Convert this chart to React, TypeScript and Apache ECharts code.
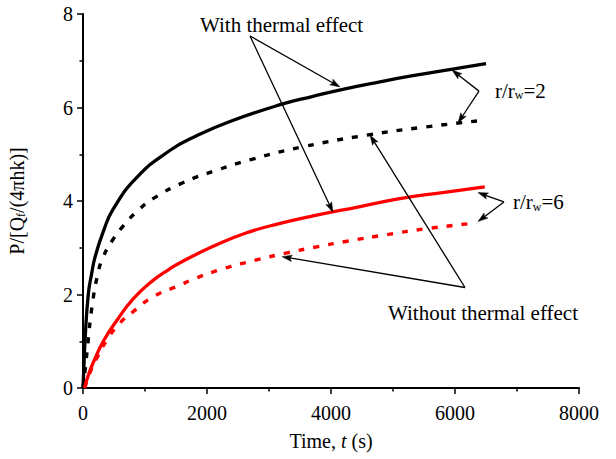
import React, { useEffect, useRef } from "react";
import * as echarts from "echarts";

// Time axis (s) and dimensionless pressure values
const blackSolidT = [0, 16, 32, 85, 140, 194, 328, 484, 865, 1400, 1840, 2370, 3180, 3710, 4190, 4790, 5320, 6080, 6500];
const blackSolidV = [0, 0.5, 1.0, 2.0, 2.45, 2.8, 3.35, 3.82, 4.5, 5.08, 5.4, 5.7, 6.06, 6.24, 6.39, 6.55, 6.68, 6.85, 6.94];

const blackDotT = [0, 40, 80, 145, 240, 325, 470, 650, 890, 1130, 1610, 2160, 2690, 3550, 4580, 5500, 6355];
const blackDotV = [0, 0.45, 0.97, 1.74, 2.45, 2.8, 3.15, 3.47, 3.8, 4.05, 4.39, 4.66, 4.88, 5.16, 5.41, 5.58, 5.71];

const redSolidT = [25, 80, 167, 328, 548, 806, 1100, 1400, 1565, 2100, 2640, 3180, 3710, 4470, 5110, 5800, 6480];
const redSolidV = [0, 0.25, 0.55, 1.0, 1.45, 1.9, 2.27, 2.55, 2.68, 3.03, 3.32, 3.52, 3.68, 3.88, 4.05, 4.18, 4.3];

const redDotT = [30, 120, 226, 387, 597, 806, 1130, 1565, 1780, 2260, 2800, 3290, 3770, 4260, 4900, 5550, 6350];
const redDotV = [0, 0.35, 0.65, 1.03, 1.39, 1.63, 1.95, 2.2, 2.33, 2.55, 2.74, 2.89, 3.02, 3.14, 3.28, 3.41, 3.53];

const xTicks = { min: 0, max: 8000, interval: 2000 };
const yTicks = { min: 0, max: 8, interval: 2 };

// Annotation arrows in data coordinates: [fromT, fromV, toT, toV]
const annotationArrows: [number, number, number, number][] = [
  [2694, 7.53, 4145, 6.44],
  [2694, 7.53, 4032, 3.76],
  [6387, 6.35, 5952, 6.8],
  [6387, 6.35, 6048, 5.67],
  [6790, 3.98, 6371, 4.18],
  [6790, 3.98, 6371, 3.56],
  [6161, 2.15, 4629, 5.41],
  [6161, 2.15, 3210, 2.81],
];

// Annotation texts: [t, v, rich text]
const annotationTexts: [number, number, string][] = [
  [1887, 7.78, "{a|With thermal effect}"],
  [6645, 6.37, "{a|r/r}{s|w}{a|=2}"],
  [6935, 3.98, "{a|r/r}{s|w}{a|=6}"],
  [4919, 1.61, "{a|Without thermal effect}"],
];

const FONT = "'Liberation Serif', 'Times New Roman', serif";

const zip = (t: number[], v: number[]) => t.map((x, i) => [x, v[i]]);

export default function App() {
  const ref = useRef<HTMLDivElement>(null);
  useEffect(() => {
    const chart = echarts.init(ref.current!, null, { renderer: "svg" });
    const lineBase = {
      type: "line",
      showSymbol: false,
      symbol: "none",
      smooth: 0.5,
      z: 3,
    };
    chart.setOption({
      animation: false,
      backgroundColor: "#ffffff",
      grid: { left: 83, right: 37, top: 14, bottom: 71, containLabel: false, outerBoundsMode: "none" },
      xAxis: {
        type: "value",
        min: xTicks.min,
        max: xTicks.max,
        interval: xTicks.interval,
        name: "{a|Time, }{i|t}{a| (s)}",
        nameLocation: "middle",
        nameGap: 43,
        nameTextStyle: {
          rich: {
            a: { fontFamily: FONT, fontSize: 20, color: "#000" },
            i: { fontFamily: FONT, fontSize: 20, fontStyle: "italic", color: "#000" },
          },
        },
        axisLine: { show: true, onZero: false, lineStyle: { color: "#000", width: 2 } },
        axisTick: { show: true, inside: false, length: 6, lineStyle: { color: "#000", width: 1.5 } },
        minorTick: { show: true, splitNumber: 2, length: 3.5, lineStyle: { color: "#000", width: 1.5 } },
        axisLabel: { fontFamily: FONT, fontSize: 20, color: "#000", margin: 15, formatter: (v: number) => String(v) },
        splitLine: { show: false },
      },
      yAxis: {
        type: "value",
        min: yTicks.min,
        max: yTicks.max,
        interval: yTicks.interval,
        name: "{a|P/[Q}{s|f}{a|/(4πhk)]}",
        nameLocation: "middle",
        nameRotate: 90,
        nameGap: 56,
        nameTextStyle: {
          rich: {
            a: { fontFamily: FONT, fontSize: 20, color: "#000", verticalAlign: "bottom", lineHeight: 22 },
            s: { fontFamily: FONT, fontSize: 12, color: "#000", verticalAlign: "bottom", lineHeight: 17 },
          },
        },
        axisLine: { show: true, onZero: false, lineStyle: { color: "#000", width: 2 } },
        axisTick: { show: true, inside: false, length: 6, lineStyle: { color: "#000", width: 1.5 } },
        minorTick: { show: true, splitNumber: 2, length: 3.5, lineStyle: { color: "#000", width: 1.5 } },
        axisLabel: { fontFamily: FONT, fontSize: 20, color: "#000", margin: 10, formatter: (v: number) => String(v) },
        splitLine: { show: false },
      },
      series: [
        { ...lineBase, name: "With thermal r/rw=2", data: zip(blackSolidT, blackSolidV), lineStyle: { color: "#000", width: 3.3 } },
        { ...lineBase, name: "Without thermal r/rw=2", data: zip(blackDotT, blackDotV), lineStyle: { color: "#000", width: 3.4, type: [6, 9] } },
        { ...lineBase, name: "With thermal r/rw=6", data: zip(redSolidT, redSolidV), lineStyle: { color: "#ff0000", width: 3.3 } },
        { ...lineBase, name: "Without thermal r/rw=6", data: zip(redDotT, redDotV), lineStyle: { color: "#ff0000", width: 3.4, type: [6, 9] } },
      ],
    });

    const px = (t: number, v: number) => chart.convertToPixel({ gridIndex: 0 }, [t, v]) as number[];
    const graphics: any[] = [];
    const L = 10;
    const W = 3.2;
    annotationArrows.forEach(([t0, v0, t1, v1]) => {
      const [x0, y0] = px(t0, v0);
      const [x1, y1] = px(t1, v1);
      const dx = x1 - x0;
      const dy = y1 - y0;
      const len = Math.hypot(dx, dy);
      const ux = dx / len;
      const uy = dy / len;
      const nx = -uy;
      const ny = ux;
      const bx = x1 - ux * L;
      const by = y1 - uy * L;
      const notchX = x1 - ux * L * 0.8;
      const notchY = y1 - uy * L * 0.8;
      graphics.push({
        type: "line",
        shape: { x1: x0, y1: y0, x2: notchX, y2: notchY },
        style: { stroke: "#000", lineWidth: 1.3 },
        z: 10,
      });
      graphics.push({
        type: "polygon",
        shape: {
          points: [
            [x1, y1],
            [bx + nx * W, by + ny * W],
            [notchX, notchY],
            [bx - nx * W, by - ny * W],
          ],
        },
        style: { fill: "#000", stroke: "#000", lineWidth: 0.5 },
        z: 10,
      });
    });
    annotationTexts.forEach(([t, v, text]) => {
      const [x, y] = px(t, v);
      graphics.push({
        type: "text",
        x,
        y,
        z: 10,
        style: {
          text,
          verticalAlign: "middle",
          align: "left",
          rich: {
            a: { fontFamily: FONT, fontSize: 21, fill: "#000", verticalAlign: "bottom", lineHeight: 22 },
            s: { fontFamily: FONT, fontSize: 12, fill: "#000", verticalAlign: "bottom", lineHeight: 19 },
          },
        },
      });
    });
    chart.setOption({ graphic: graphics });
    return () => chart.dispose();
  }, []);
  return <div ref={ref} style={{ position: "fixed", left: 0, top: 0, width: 616, height: 459 }} />;
}
